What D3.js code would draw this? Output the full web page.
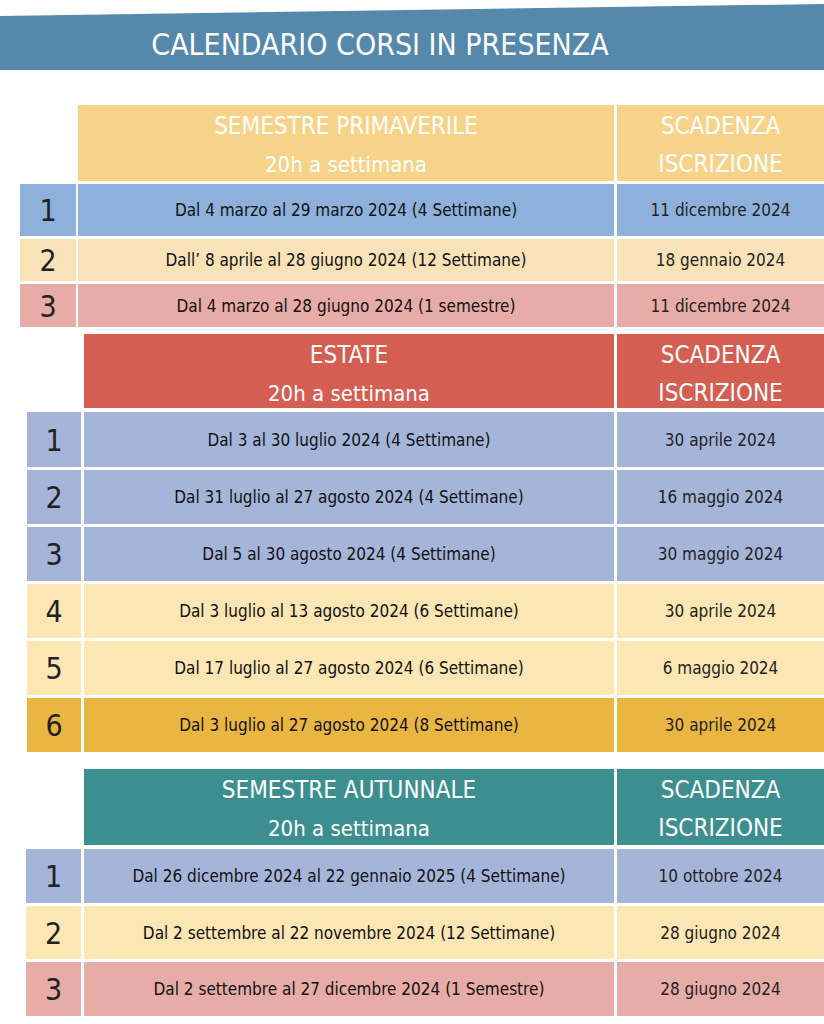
<!DOCTYPE html>
<html><head><meta charset="utf-8">
<script src="https://cdn.jsdelivr.net/npm/d3@7/dist/d3.min.js"></script>
<style>body{margin:0;background:#fff}svg{display:block}text{font-family:"DejaVu Sans Condensed","Liberation Sans Narrow","Roboto",sans-serif}</style>
</head><body><script>
const title = "CALENDARIO CORSI IN PRESENZA";
const sectionTitles = ["SEMESTRE PRIMAVERILE","ESTATE","SEMESTRE AUTUNNALE"];
const sectionSub = "20h a settimana";
const deadlineHeader = ["SCADENZA","ISCRIZIONE"];
const s1Courses = ["Dal 4 marzo al 29 marzo 2024 (4 Settimane)","Dall’ 8 aprile al 28 giugno 2024 (12 Settimane)","Dal 4 marzo al 28 giugno 2024 (1 semestre)"];
const s1Deadlines = ["11 dicembre 2024","18 gennaio 2024","11 dicembre 2024"];
const s2Courses = ["Dal 3 al 30 luglio 2024 (4 Settimane)","Dal 31 luglio al 27 agosto 2024 (4 Settimane)","Dal 5 al 30 agosto 2024 (4 Settimane)","Dal 3 luglio al 13 agosto 2024 (6 Settimane)","Dal 17 luglio al 27 agosto 2024 (6 Settimane)","Dal 3 luglio al 27 agosto 2024 (8 Settimane)"];
const s2Deadlines = ["30 aprile 2024","16 maggio 2024","30 maggio 2024","30 aprile 2024","6 maggio 2024","30 aprile 2024"];
const s3Courses = ["Dal 26 dicembre 2024 al 22 gennaio 2025 (4 Settimane)","Dal 2 settembre al 22 novembre 2024 (12 Settimane)","Dal 2 settembre al 27 dicembre 2024 (1 Semestre)"];
const s3Deadlines = ["10 ottobre 2024","28 giugno 2024","28 giugno 2024"];

const W=824,H=1024;
const svg=d3.select("body").append("svg").attr("width",W).attr("height",H);
// banner
svg.append("path").attr("d","M0,16 L824,4 L824,70 L0,70 Z").attr("fill","#5588aa");
svg.append("text").attr("x",380).attr("y",55).attr("text-anchor","middle").attr("fill","#fff")
  .attr("font-size",30).attr("font-weight",300).text(title);

const layout=[
 {courses:s1Courses,dl:s1Deadlines,head:[105,181],rows:[[184,236],[239,281],[284,327]],num:[20,76],main:[78,614],
  headFill:"#f7d38a",fills:["#8eb1dc","#f9e2b8","#e8aca8"]},
 {courses:s2Courses,dl:s2Deadlines,head:[334,408],rows:[[412,467],[470,524],[527,581],[584,638],[641,695],[698,752]],num:[27,81],main:[84,614],
  headFill:"#d45e52",fills:["#a5b5d9","#a5b5d9","#a5b5d9","#fce6b4","#fce6b4","#eab642"]},
 {courses:s3Courses,dl:s3Deadlines,head:[769,845],rows:[[849,903],[906,959],[962,1016]],num:[26,81],main:[84,614],
  headFill:"#3d8f8f",fills:["#a5b5d9","#fce6b4","#e8aca8"]}
];
const dlX=[617,824];
layout.forEach((s,si)=>{
  const g=svg.append("g");
  const [h0,h1]=s.head;
  g.append("rect").attr("x",s.main[0]).attr("y",h0).attr("width",s.main[1]-s.main[0]).attr("height",h1-h0).attr("fill",s.headFill);
  g.append("rect").attr("x",dlX[0]).attr("y",h0).attr("width",dlX[1]-dlX[0]).attr("height",h1-h0).attr("fill",s.headFill);
  const mc=(s.main[0]+s.main[1])/2, dc=(dlX[0]+dlX[1])/2;
  g.append("text").attr("x",mc).attr("y",h0+29).attr("text-anchor","middle").attr("fill","#fff").attr("font-size",24).text(sectionTitles[si]);
  g.append("text").attr("x",mc).attr("y",h0+67).attr("text-anchor","middle").attr("fill","#fff").attr("font-size",22).text(sectionSub);
  g.append("text").attr("x",dc).attr("y",h0+29).attr("text-anchor","middle").attr("fill","#fff").attr("font-size",24).text(deadlineHeader[0]);
  g.append("text").attr("x",dc).attr("y",h0+67).attr("text-anchor","middle").attr("fill","#fff").attr("font-size",24).text(deadlineHeader[1]);
  const rows=g.selectAll(".r").data(s.courses).join("g");
  rows.each(function(c,i){
    const r=d3.select(this),[y0,y1]=s.rows[i],cy=(y0+y1)/2,f=s.fills[i];
    r.append("rect").attr("x",s.num[0]).attr("y",y0).attr("width",s.num[1]-s.num[0]).attr("height",y1-y0).attr("fill",f);
    r.append("rect").attr("x",s.main[0]).attr("y",y0).attr("width",s.main[1]-s.main[0]).attr("height",y1-y0).attr("fill",f);
    r.append("rect").attr("x",dlX[0]).attr("y",y0).attr("width",dlX[1]-dlX[0]).attr("height",y1-y0).attr("fill",f);
    r.append("text").attr("x",(s.num[0]+s.num[1])/2).attr("y",cy+11).attr("text-anchor","middle").attr("font-size",30).attr("font-weight",300).attr("fill","#222").text(i+1);
    r.append("text").attr("x",mc).attr("y",cy+6).attr("text-anchor","middle").attr("font-size",17).attr("fill","#111").text(c);
    r.append("text").attr("x",dc).attr("y",cy+6).attr("text-anchor","middle").attr("font-size",17).attr("fill","#222").attr("font-weight",300).text(s.dl[i]);
  });
});
</script></body></html>
